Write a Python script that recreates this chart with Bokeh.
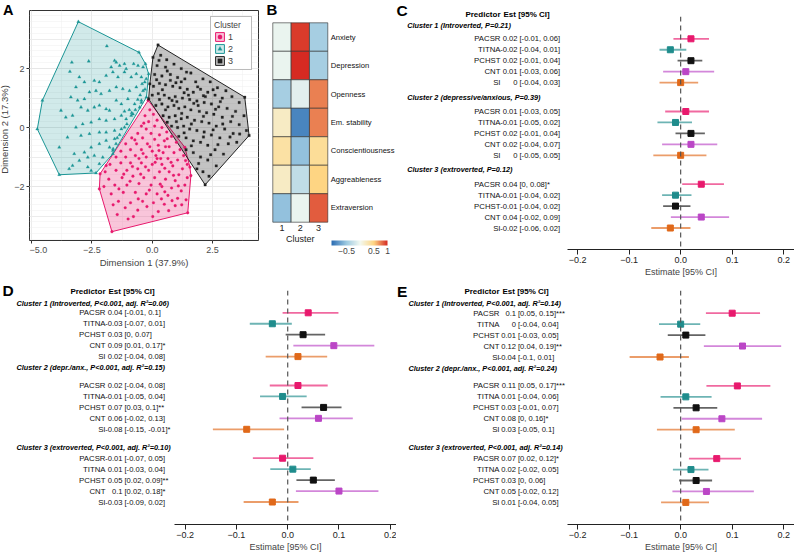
import numpy as np
from bokeh.plotting import figure
from bokeh.models import (Range1d, FixedTicker, Span, Legend, LegendItem, Grid,
                          ColorBar, LinearColorMapper, ColumnDataSource)
from bokeh.layouts import row, column
from bokeh.embed import file_html
from bokeh.resources import INLINE
from bokeh.core.properties import value

FONT = "Liberation Sans"

# ---------------- Panel A data ----------------
c1_pts = [(-0.17,0.92),(1.35,-0.67),(1.56,-1.34),(1.60,-1.63),(1.47,-2.89),(-1.67,-3.53),(-2.19,-2.08),
          (-2.16,-1.57),(-1.91,-1.29),
          (-0.10,0.60),(0.05,0.45),(-0.30,0.40),(0.20,0.25),(-0.15,0.20),(-0.45,0.05),(0.10,0.05),(0.40,0.00),
          (-0.25,-0.05),(0.60,-0.15),(-0.60,-0.20),(-0.05,-0.20),(0.30,-0.25),(0.80,-0.30),(-0.85,-0.35),
          (-0.40,-0.35),(0.10,-0.40),(0.50,-0.45),(1.00,-0.50),(-1.10,-0.55),(-0.65,-0.55),(-0.20,-0.55),
          (0.25,-0.60),(0.70,-0.65),(1.15,-0.75),(-1.30,-0.80),(-0.90,-0.75),(-0.45,-0.75),(0.00,-0.80),
          (0.45,-0.85),(0.90,-0.85),(1.30,-0.95),(-1.50,-1.00),(-1.10,-1.00),(-0.70,-0.95),(-0.25,-1.00),
          (0.20,-1.05),(0.65,-1.05),(1.05,-1.10),(1.45,-1.25),(-1.75,-1.25),(-1.30,-1.20),(-0.90,-1.20),
          (-0.45,-1.20),(0.00,-1.25),(0.40,-1.25),(0.85,-1.30),(1.25,-1.40),(-1.95,-1.50),(-1.50,-1.45),
          (-1.05,-1.45),(-0.60,-1.40),(-0.15,-1.45),(0.30,-1.50),(0.70,-1.50),(1.10,-1.60),(1.45,-1.70),
          (-1.80,-1.75),(-1.25,-1.70),(-0.80,-1.65),(-0.35,-1.70),(0.10,-1.70),(0.55,-1.75),(0.95,-1.80),
          (1.35,-1.95),(-2.00,-2.00),(-1.55,-1.95),(-1.05,-1.95),(-0.55,-1.90),(-0.05,-1.95),(0.40,-2.00),
          (0.80,-2.05),(1.20,-2.15),(-1.70,-2.25),(-1.20,-2.20),(-0.70,-2.20),(-0.25,-2.25),(0.20,-2.25),
          (0.65,-2.30),(1.05,-2.40),(1.40,-2.45),(-1.40,-2.50),(-0.90,-2.55),(-0.40,-2.50),(0.05,-2.55),
          (0.50,-2.60),(0.95,-2.65),(-1.45,-2.95),(-0.60,-2.80),(0.25,-2.85),(-1.00,-3.10),(1.38,-1.12),
          (-0.35,0.15),(0.55,-0.65),(0.35,-1.05),(-0.10,-0.65),(0.15,-0.95),(-0.55,-1.05),
          (-0.72,-0.42),(0.62,-0.38),(0.28,-0.78),(-0.38,-0.88),(0.78,-1.18),(-0.82,-1.32),(0.52,-1.38),
          (-0.28,-1.33),(0.12,-1.18),(-1.18,-1.58),(0.88,-1.62),(-0.48,-1.58),(0.33,-1.92),(-0.92,-1.82),
          (1.08,-1.98),(-1.38,-2.08),(-0.12,-2.12),(0.52,-2.18),(-0.58,-2.42),(0.82,-2.48),(-1.12,-2.72),
          (-0.22,-2.68),(0.38,-2.42),(1.22,-2.62),(-1.62,-2.62),(-0.78,-3.02),(0.02,-3.02),(0.68,-2.82)]

c2_pts = [(-3.06,3.59),(-0.55,2.55),(-0.28,2.16),(-0.15,1.82),(-0.24,1.03),(-0.80,0.46),(-1.63,-0.89),
          (-2.33,-1.54),(-3.85,-1.60),(-4.76,-0.05),(-4.55,0.92),
          (-1.88,2.76),(-3.33,2.21),(-2.63,2.25),(-1.56,2.27),(-1.49,2.21),(-1.70,2.05),(-1.35,2.10),
          (-1.15,2.16),(-1.08,1.99),(-0.77,2.16),(-0.59,2.10),(-0.38,2.05),(-3.41,1.90),(-3.02,1.71),
          (-3.16,1.37),(-2.81,1.54),(-2.40,1.59),(-2.19,1.54),(-1.91,1.76),(-1.63,1.88),(-1.42,1.71),
          (-1.15,1.88),(-0.87,1.71),(-0.66,1.82),(-0.45,1.71),(-0.31,1.54),(-0.38,1.25),(-0.66,1.37),
          (-0.94,1.25),(-1.22,1.31),(-1.49,1.37),(-1.77,1.25),(-2.12,1.14),(-2.33,1.25),(-2.60,1.20),
          (-2.81,0.97),(-3.09,0.92),(-3.37,1.03),(-3.78,0.58),(-3.58,0.35),(-3.30,0.41),(-2.95,0.69),
          (-2.67,0.58),(-2.40,0.69),(-2.19,0.75),(-1.91,0.63),(-1.77,0.58),(-1.49,0.92),(-1.28,0.80),
          (-1.01,0.97),(-0.73,0.80),(-0.52,0.69),(-0.45,0.92),(-0.85,0.50),(-0.87,0.41),(-1.08,0.29),
          (-1.28,0.41),(-1.56,0.29),(-1.91,0.24),(-2.19,0.29),(-2.53,0.18),(-2.88,0.12),(-3.16,0.01),
          (-3.51,-0.33),(-2.95,-0.27),(-2.60,-0.21),(-2.19,-0.16),(-1.91,-0.16),(-1.56,-0.10),(-1.28,-0.05),
          (-1.15,0.01),(-1.05,0.12),(-3.85,-0.67),(-3.23,-0.89),(-2.81,-0.84),(-2.53,-0.67),(-2.19,-0.55),
          (-1.91,-0.44),(-1.56,-0.38),(-1.50,-0.55),(-1.63,-0.78),(-2.05,-1.01),(-2.40,-0.95),(-2.67,-1.01),
          (-3.02,-1.12),(-3.30,-1.29),(-3.44,-1.40),(-2.67,-1.34),(-2.53,-1.46),(-2.19,-1.23),(-1.77,-0.67),
          (-0.30,1.30),(-0.45,0.85),(-0.50,1.10),(-0.42,1.48),(-0.25,1.65),(-0.60,0.95),(-0.70,0.60),
          (-0.95,0.60),(-1.15,0.55),(-1.35,-0.25),(-1.45,-0.35),(-1.62,-0.72)]

c3_pts = [(0.24,2.80),(3.83,1.03),(4.01,-0.27),(2.19,-1.94),(-0.15,0.97),(-0.10,1.48),(0.03,2.38),
          (0.35,2.45),(0.60,2.30),(0.20,2.10),(0.55,2.05),(0.90,2.15),(1.20,2.00),(1.60,1.85),(0.10,1.80),
          (0.40,1.75),(0.75,1.80),(1.05,1.70),(1.35,1.65),(1.80,1.55),(2.10,1.65),(2.40,1.55),(2.70,1.35),
          (3.05,1.25),(0.05,1.40),(0.30,1.50),(0.55,1.45),(0.85,1.40),(1.15,1.35),(1.45,1.30),(1.70,1.20),
          (2.00,1.30),(2.30,1.20),(2.60,1.10),(2.90,1.00),(3.30,1.05),(3.60,0.85),(0.00,1.10),(0.25,1.15),
          (0.50,1.10),(0.70,1.00),(0.95,1.05),(1.25,1.00),(1.55,0.95),(1.85,0.90),(2.15,0.85),(2.45,0.80),
          (2.75,0.70),(3.10,0.65),(3.45,0.55),(3.80,0.40),(0.15,0.75),(0.40,0.80),(0.65,0.70),(0.90,0.75),
          (1.10,0.65),(1.35,0.70),(1.60,0.60),(1.95,0.55),(2.25,0.50),(2.55,0.45),(2.90,0.35),(3.25,0.20),
          (3.60,0.10),(3.90,-0.10),(0.45,0.40),(0.70,0.35),(0.95,0.40),(1.20,0.30),(1.45,0.35),(1.75,0.25),
          (2.05,0.20),(2.35,0.15),(2.65,0.05),(3.00,-0.05),(3.35,-0.20),(0.80,0.05),(1.05,0.00),(1.30,0.05),
          (1.55,-0.05),(1.85,-0.10),(2.15,-0.15),(2.45,-0.25),(2.80,-0.35),(3.15,-0.55),(3.50,-0.50),
          (1.10,-0.30),(1.40,-0.35),(1.70,-0.45),(2.00,-0.50),(2.30,-0.60),(2.60,-0.75),(2.95,-0.90),
          (1.40,-0.75),(1.70,-0.85),(2.00,-1.00),(2.30,-1.10),(2.65,-1.30),(1.85,-1.40),(2.10,-1.50),
          (2.35,-1.65),(1.20,1.55),(0.75,1.60),(1.50,1.10),(0.30,0.95),(0.55,0.60),(1.00,0.20),(2.20,1.05),
          (1.90,0.75),(0.62,1.92),(1.42,1.88),(0.18,1.62),(0.98,1.52),(1.88,1.38),(2.52,1.28),(0.42,1.28),
          (1.32,1.18),(2.12,1.08),(2.82,0.88),(0.82,0.92),(1.72,0.82),(2.62,0.62),(3.32,0.38),(1.22,0.48),
          (2.12,0.38),(2.92,0.12),(0.62,0.18),(1.62,0.12),(2.52,-0.08),(3.22,-0.32),(1.32,-0.18),(2.12,-0.32),
          (2.72,-0.58),(1.62,-0.62),(2.42,-0.92),(1.92,-1.22),(3.62,-0.22),(1.02,0.88),(0.28,2.28)]

cluster_labels = ["1", "2", "3"]
cluster_colors = ["#E8196D", "#1A9595", "#222222"]
cluster_markers = ["circle", "triangle", "square"]

# ---------------- Panel B data ----------------
traits = ["Anxiety", "Depression", "Openness", "Em. stability", "Conscientiousness",
          "Aggreableness", "Extraversion"]
z_cluster1 = [-0.05, -0.05, -0.45, 0.20, 0.35, 0.20, -0.55]
z_cluster2 = [0.95, 1.00, -0.10, -0.90, -0.55, -0.30, -0.05]
z_cluster3 = [-0.45, -0.45, 0.75, 0.75, 0.40, 0.50, 0.85]

# ---------------- Forest data ----------------
predictors = ["PACSR", "TITNA", "PCHST", "CNT", "SI"]
pred_colors = ["#E8196D", "#1F8C8C", "#111111", "#BB46C6", "#E0691A"]

C_headers = ["Cluster 1 (Introverted, P=0.21)", "Cluster 2 (depressive/anxious, P=0.39)",
             "Cluster 3 (extroverted, P=0.12)"]
C_est = [0.02, -0.02, 0.02, 0.01, 0.00, 0.01, -0.01, 0.02, 0.02, 0.00, 0.04, -0.01, -0.01, 0.04, -0.02]
C_lo = [-0.014, -0.041, -0.006, -0.034, -0.041, -0.030, -0.045, -0.010, -0.036, -0.053,
        0.003, -0.036, -0.034, -0.019, -0.057]
C_hi = [0.055, 0.011, 0.042, 0.065, 0.034, 0.055, 0.022, 0.047, 0.071, 0.050,
        0.084, 0.021, 0.019, 0.094, 0.019]
C_est_lab = ["0.02", "-0.02", "0.02", "0.01", "0", "0.01", "-0.01", "0.02", "0.02", "0",
             "0.04", "-0.01", "-0.01", "0.04", "-0.02"]
C_ci_lab = ["[-0.01, 0.06]", "[-0.04, 0.01]", "[-0.01, 0.04]", "[-0.03, 0.06]", "[-0.04, 0.03]",
            "[-0.03, 0.05]", "[-0.05, 0.02]", "[-0.01, 0.04]", "[-0.04, 0.07]", "[-0.05, 0.05]",
            "[0, 0.08]*", "[-0.04, 0.02]", "[-0.04, 0.02]", "[-0.02, 0.09]", "[-0.06, 0.02]"]

D_headers = ["Cluster 1 (Introverted, P<0.001, adj. R\u00b2=0.06)", "Cluster 2 (depr./anx., P<0.001, adj. R\u00b2=0.15)",
             "Cluster 3 (extroverted, P<0.001, adj. R\u00b2=0.10)"]
D_est = [0.04, -0.03, 0.03, 0.09, 0.02, 0.02, -0.01, 0.07, 0.06, -0.08, -0.01, 0.01, 0.05, 0.10, -0.03]
D_lo = [-0.010, -0.074, -0.004, 0.011, -0.043, -0.035, -0.054, 0.027, -0.016, -0.146,
        -0.068, -0.034, 0.017, 0.016, -0.086]
D_hi = [0.099, 0.008, 0.073, 0.169, 0.077, 0.078, 0.037, 0.105, 0.127, -0.007,
        0.050, 0.045, 0.092, 0.177, 0.021]
D_est_lab = ["0.04", "-0.03", "0.03", "0.09", "0.02", "0.02", "-0.01", "0.07", "0.06", "-0.08",
             "-0.01", "0.01", "0.05", "0.1", "-0.03"]
D_ci_lab = ["[-0.01, 0.1]", "[-0.07, 0.01]", "[0, 0.07]", "[0.01, 0.17]*", "[-0.04, 0.08]",
            "[-0.04, 0.08]", "[-0.05, 0.04]", "[0.03, 0.1]**", "[-0.02, 0.13]", "[-0.15, -0.01]*",
            "[-0.07, 0.05]", "[-0.03, 0.04]", "[0.02, 0.09]**", "[0.02, 0.18]*", "[-0.09, 0.02]"]

E_headers = ["Cluster 1 (Introverted, P<0.001, adj. R\u00b2=0.14)", "Cluster 2 (depr./anx., P<0.001, adj. R\u00b2=0.24)",
             "Cluster 3 (extroverted, P<0.001, adj. R\u00b2=0.14)"]
E_est = [0.10, 0.00, 0.01, 0.12, -0.04, 0.11, 0.01, 0.03, 0.08, 0.03, 0.07, 0.02, 0.03, 0.05, 0.01]
E_lo = [0.049, -0.042, -0.025, 0.045, -0.099, 0.050, -0.039, -0.014, 0.002, -0.046,
        0.016, -0.015, -0.003, -0.016, -0.038]
E_hi = [0.154, 0.038, 0.048, 0.195, 0.016, 0.174, 0.060, 0.071, 0.158, 0.105,
        0.117, 0.054, 0.061, 0.142, 0.055]
E_est_lab = ["0.1", "0", "0.01", "0.12", "-0.04", "0.11", "0.01", "0.03", "0.08", "0.03",
             "0.07", "0.02", "0.03", "0.05", "0.01"]
E_ci_lab = ["[0.05, 0.15]***", "[-0.04, 0.04]", "[-0.03, 0.05]", "[0.04, 0.19]**", "[-0.1, 0.01]",
            "[0.05, 0.17]***", "[-0.04, 0.06]", "[-0.01, 0.07]", "[0, 0.16]*", "[-0.05, 0.1]",
            "[0.02, 0.12]*", "[-0.02, 0.05]", "[0, 0.06]", "[-0.02, 0.12]", "[-0.04, 0.05]"]

forest_ticks = [-0.2, -0.1, 0.0, 0.1, 0.2]
forest_tick_labels = ["\u22120.2", "\u22120.1", "0.0", "0.1", "0.2"]


def style_fig(p):
    p.outline_line_color = None
    p.background_fill_color = "white"
    p.border_fill_color = "white"
    p.grid.visible = False


def bare_fig(width, height, xr, yr):
    p = figure(width=width, height=height, x_range=xr, y_range=yr,
               x_axis_location=None, y_axis_location=None, output_backend="svg",
               toolbar_location=None, frame_align=False,
               min_border_left=0, min_border_right=0, min_border_top=0, min_border_bottom=0)
    style_fig(p)
    return p


def convex_hull(pts):
    pts = sorted(set(pts))
    def cross(o, a, b):
        return (a[0]-o[0])*(b[1]-o[1]) - (a[1]-o[1])*(b[0]-o[0])
    lower, upper = [], []
    for q in pts:
        while len(lower) >= 2 and cross(lower[-2], lower[-1], q) <= 0:
            lower.pop()
        lower.append(q)
    for q in reversed(pts):
        while len(upper) >= 2 and cross(upper[-2], upper[-1], q) <= 0:
            upper.pop()
        upper.append(q)
    return lower[:-1] + upper[:-1]


def style_axis(ax):
    ax.axis_line_color = None
    ax.major_tick_out = 3
    ax.major_tick_in = 0
    ax.major_tick_line_color = "#333333"
    ax.minor_tick_line_color = None
    ax.major_label_text_font = FONT
    ax.major_label_text_font_size = "9px"
    ax.major_label_text_color = "#4d4d4d"
    ax.major_label_standoff = 1
    ax.axis_label_text_font = FONT
    ax.axis_label_text_font_size = "9.5px"
    ax.axis_label_text_font_style = "normal"
    ax.axis_label_standoff = 1


# ================= Panel A =================
A_YLO, A_YHI = -3.83, 3.97          # y data range of the scatter box
A_PX_PER_Y = 29.5
yticker_A = FixedTicker(ticks=[-2, 0, 2], minor_ticks=[-3, -1, 1, 3])

# letter "A" above the y axis column
pAletter = bare_fig(29, 18, Range1d(0, 29), Range1d(0, 18))
pAletter.text(x=[2.5], y=[17], text=["A"], text_font=value(FONT), text_font_size="14.5px",
              text_font_style="bold", text_baseline="top", text_align="left")

# y axis column (shares the same y scale as the scatter box)
pAy = figure(width=29, height=263, x_range=Range1d(0, 1),
             y_range=Range1d(A_YLO, A_YHI - 8 / A_PX_PER_Y),
             x_axis_location=None, output_backend="svg", toolbar_location=None, frame_align=False,
             min_border_left=28, min_border_right=0, min_border_top=0, min_border_bottom=41)
style_fig(pAy)
pAy.yaxis.ticker = yticker_A
pAy.yaxis.major_label_overrides = {-2: "\u22122", 0: "0", 2: "2"}
pAy.yaxis.axis_label = "Dimension 2 (17.3%)"
style_axis(pAy.yaxis[0])

pA = figure(width=236, height=281, x_range=Range1d(-5.125 + 1/24, 4.4), y_range=Range1d(A_YLO, A_YHI),
            y_axis_location=None, output_backend="svg", toolbar_location=None, frame_align=False,
            min_border_left=0, min_border_right=7, min_border_top=10, min_border_bottom=41)
pA.background_fill_color = "white"
pA.border_fill_color = "white"
pA.outline_line_color = "#333333"
pA.outline_line_width = 1
pA.xaxis.ticker = FixedTicker(ticks=[-5, -2.5, 0, 2.5], minor_ticks=[-3.75, -1.25, 1.25, 3.75])
pA.xaxis.major_label_overrides = {-5: "\u22125.0", -2.5: "\u22122.5", 0: "0.0", 2.5: "2.5"}
pA.xaxis.axis_label = "Dimension 1 (37.9%)"
style_axis(pA.xaxis[0])
pA.xaxis.major_label_standoff = 2
pA.add_layout(Grid(dimension=1, ticker=yticker_A))
for g in pA.grid:
    g.grid_line_color = "#e6e6e6"
    g.grid_line_width = 0.8
    g.minor_grid_line_color = "#efefef"
    g.minor_grid_line_width = 0.5

hull_r, pts_r = [], []
for pts, col, alpha in zip([c1_pts, c2_pts, c3_pts], cluster_colors, [0.25, 0.2, 0.27]):
    h = convex_hull(pts)
    hull_r.append(pA.patch([q[0] for q in h], [q[1] for q in h], fill_color=col, fill_alpha=alpha,
                           line_color=col, line_width=1))
for pts, col, mk, sz in zip([c1_pts, c2_pts, c3_pts], cluster_colors, cluster_markers, [2.7, 3.2, 2.4]):
    pts_r.append(pA.scatter([q[0] for q in pts], [q[1] for q in pts], marker=mk, size=sz,
                            fill_color=col, line_color=col, line_width=0.3))
legA = Legend(items=[LegendItem(label=lab, renderers=[hull_r[i], pts_r[i]])
                     for i, lab in enumerate(cluster_labels)],
              location="top_right", title="Cluster")
legA.title_text_font = FONT
legA.title_text_font_size = "8.5px"
legA.title_text_font_style = "normal"
legA.title_standoff = 1
legA.label_text_font = FONT
legA.label_text_font_size = "9px"
legA.glyph_width = 11
legA.glyph_height = 11
legA.label_height = 11
legA.label_standoff = 3
legA.spacing = 1
legA.padding = 3
legA.margin = 6
legA.border_line_color = "#777777"
legA.border_line_width = 0.8
pA.add_layout(legA)

# ================= Panel B =================
anch_v = [-1.05, -0.5, 0.0, 0.5, 1.0]
anch_c = ["#2b6cb3", "#9ecae1", "#f3f9f1", "#fed683", "#d62a22"]
def _rgb(h):
    return [int(h[i:i+2], 16) for i in (1, 3, 5)]
pal = []
for t in np.linspace(anch_v[0], anch_v[-1], 256):
    k = min(np.searchsorted(anch_v, t, side="right") - 1, len(anch_v) - 2)
    f = (t - anch_v[k]) / (anch_v[k+1] - anch_v[k])
    a, b = _rgb(anch_c[k]), _rgb(anch_c[k+1])
    pal.append("#%02x%02x%02x" % tuple(int(round(a[j] + f*(b[j]-a[j]))) for j in range(3)))
mapper = LinearColorMapper(palette=pal, low=anch_v[0], high=anch_v[-1])

xB0 = 0.102
pB = bare_fig(130, 281, Range1d(xB0, xB0 + 130/18.33), Range1d(-2.581, 7.283))
hx, hy, hz = [], [], []
for j, zs in enumerate([z_cluster1, z_cluster2, z_cluster3]):
    for i, z in enumerate(zs):
        hx.append(j + 1)
        hy.append(len(traits) - 1 - i)
        hz.append(z)
pB.rect(x="x", y="y", width=1, height=1, source=ColumnDataSource(dict(x=hx, y=hy, z=hz)),
        fill_color={"field": "z", "transform": mapper}, line_color="#2a2a2a", line_width=0.6)
pB.text(x=[3.66]*len(traits), y=list(range(len(traits)-1, -1, -1)), text=traits,
        text_font=value(FONT), text_font_size="7.6px", text_baseline="middle", text_align="left",
        text_color="#111111")
pB.text(x=[1, 2, 3], y=[-0.72]*3, text=cluster_labels, text_font=value(FONT), text_font_size="9px",
        text_baseline="middle", text_align="center", text_color="#222222")
pB.text(x=[2], y=[-1.09], text=["Cluster"], text_font=value(FONT), text_font_size="9px",
        text_baseline="middle", text_align="center", text_color="#222222")
pB.text(x=[xB0 + 0.06], y=[7.283 - 0.5/28.49], text=["B"], text_font=value(FONT), text_font_size="15px",
        text_font_style="bold", text_baseline="top", text_align="left")
cb = ColorBar(color_mapper=mapper, orientation="horizontal", location=(66, 25), width=56, height=5,
              padding=0, ticker=FixedTicker(ticks=[-0.5, 0, 0.5, 1]),
              major_label_overrides={-0.5: "\u22120.5", 0: "0", 0.5: "0.5", 1: "1"},
              major_label_text_font=FONT, major_label_text_font_size="8.5px",
              major_tick_line_color=None, bar_line_color=None, border_line_color=None,
              background_fill_color=None, label_standoff=2)
pB.add_layout(cb)


# ================= Forest panels =================
GAP = 6.64
row_pos = [-(g*GAP + i) for g in range(3) for i in range(5)]


def forest_table(letter, headers, hdr_off, pred_off, est_lab, ci_lab, width, height, p0, U, xs,
                 letter_top):
    ye = p0 / U
    ys = -(height - p0) / U
    p = bare_fig(width, height, Range1d(0, width), Range1d(ys, ye))
    p.text(x=[xs["letter"]], y=[ye - letter_top/U], text=[letter], text_font=value(FONT),
           text_font_size="15.5px", text_font_style="bold", text_baseline="top", text_align="left")
    p.text(x=[xs["name"]], y=[pred_off], text=["Predictor"], text_font=value(FONT), text_font_size="8px",
           text_font_style="bold", text_baseline="middle", text_align="right")
    p.text(x=[xs["name"] + 3], y=[pred_off], text=["Est [95% CI]"], text_font=value(FONT),
           text_font_size="8px", text_font_style="bold", text_baseline="middle", text_align="left")
    p.text(x=[xs["hdr"]]*3, y=[-(g*GAP) + hdr_off[g] for g in range(3)], text=headers,
           text_font=value(FONT), text_font_size="7.3px", text_font_style="bold italic",
           text_baseline="middle", text_align="left")
    names = predictors * 3
    p.text(x=[xs["name"]]*15, y=row_pos, text=names, text_font=value(FONT), text_font_size="7.8px",
           text_baseline="middle", text_align="right", text_color="#111111")
    p.text(x=[xs["est"]]*15, y=row_pos, text=est_lab, text_font=value(FONT), text_font_size="7.6px",
           text_baseline="middle", text_align="right", text_color="#111111")
    p.text(x=[xs["est"] + 2]*15, y=row_pos, text=ci_lab, text_font=value(FONT), text_font_size="7.6px",
           text_baseline="middle", text_align="left", text_color="#111111")
    return p


def forest_plot(est, lo, hi, width, height, p0, U, f_top, f_bot, x_start, scale):
    ye = (p0 - f_top) / U
    ys = -(f_bot - p0) / U
    p = figure(width=width, height=height, x_range=Range1d(x_start, x_start + width/scale),
               y_range=Range1d(ys, ye), y_axis_location=None, output_backend="svg",
               toolbar_location=None, frame_align=False, min_border_left=0, min_border_right=0,
               min_border_top=int(f_top), min_border_bottom=int(round(height - f_bot)))
    style_fig(p)
    p.add_layout(Span(location=0, dimension="height", line_color="#555555", line_width=1.2,
                      line_dash="5 4"))
    cols = pred_colors * 3
    p.segment(x0=lo, y0=row_pos, x1=hi, y1=row_pos, line_color=cols, line_width=1.8, line_alpha=0.65)
    p.scatter(x=est, y=row_pos, marker="square", size=6, fill_color=cols, line_color=cols)
    ax = p.xaxis[0]
    ax.ticker = FixedTicker(ticks=forest_ticks)
    ax.major_label_overrides = dict(zip(forest_ticks, forest_tick_labels))
    ax.axis_label = "Estimate [95% CI]"
    ax.axis_line_color = "#222222"
    ax.axis_line_width = 1
    ax.major_tick_out = 5
    ax.major_tick_in = 0
    ax.major_tick_line_color = "#222222"
    ax.minor_tick_line_color = None
    ax.major_label_text_font = FONT
    ax.major_label_text_font_size = "9px"
    ax.major_label_text_color = "#222222"
    ax.major_label_standoff = 2
    ax.axis_label_text_font = FONT
    ax.axis_label_text_font_size = "9px"
    ax.axis_label_text_font_style = "normal"
    ax.axis_label_standoff = 1
    return p


U = 10.95
# Panel C (top row, height 281)
pCt = forest_table("C", C_headers, [1.22, 1.24, 1.37], 2.19, C_est_lab, C_ci_lab, 172, 281, 38.3, U,
                   dict(letter=1.0, name=105, est=122, hdr=11.7), 1)
pCf = forest_plot(C_est, C_lo, C_hi, 227, 281, 38.3, U, 16, 249, -0.2195, 515.5)
# Panel D (bottom row, height 274)
pDt = forest_table("D", D_headers, [0.87, 1.6, 1.0], 1.94, D_est_lab, D_ci_lab, 174, 274, 31.3, U,
                   dict(letter=2.0, name=105, est=122, hdr=16), 0)
pDf = forest_plot(D_est, D_lo, D_hi, 222, 274, 31.3, U, 9, 243, -0.2209, 512.5)
# Panel E
pEt = forest_table("E", E_headers, [0.87, 1.6, 1.0], 1.94, E_est_lab, E_ci_lab, 171, 274, 31.7, U,
                   dict(letter=0.5, name=103, est=119.5, hdr=12), 1)
pEf = forest_plot(E_est, E_lo, E_hi, 227, 274, 31.7, U, 9, 243, -0.2195, 515.5)

top = row(column(pAletter, pAy, spacing=0), pA, pB, pCt, pCf, spacing=0)
bottom = row(pDt, pDf, pEt, pEf, spacing=0)
layout = column(top, bottom, spacing=0)
open("out.html", "w").write(file_html(layout, INLINE))
